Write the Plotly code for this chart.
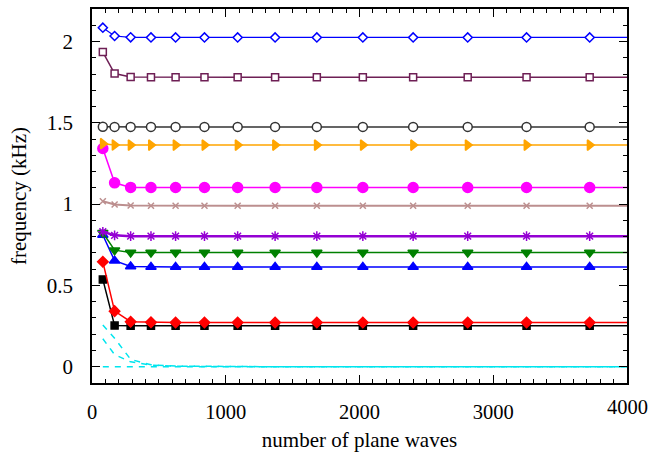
import plotly.graph_objects as go

# number of plane waves (squares of odd integers)
n_pw = [81, 169, 289, 441, 625, 841, 1089, 1369, 1681, 2025, 2401, 2809, 3249, 3721, 4225]
x_last_tick = 4000
x_last_label = "4000"

f_diamond_open = [2.085, 2.034, 2.026, 2.025, 2.025, 2.025, 2.025, 2.025, 2.025, 2.025, 2.025, 2.025, 2.025, 2.025, 2.025]
f_square_open = [1.935, 1.803, 1.782, 1.781, 1.781, 1.781, 1.781, 1.781, 1.781, 1.781, 1.781, 1.781, 1.781, 1.781, 1.781]
f_circle_open = [1.476, 1.475, 1.475, 1.475, 1.475, 1.475, 1.475, 1.475, 1.475, 1.475, 1.475, 1.475, 1.475, 1.475, 1.475]
f_tri_right = [1.372, 1.364, 1.363, 1.363, 1.363, 1.363, 1.363, 1.363, 1.363, 1.363, 1.363, 1.363, 1.363, 1.363, 1.363]
f_circle = [1.342, 1.131, 1.103, 1.102, 1.102, 1.102, 1.102, 1.102, 1.102, 1.102, 1.102, 1.102, 1.102, 1.102, 1.102]
f_cross = [1.018, 0.998, 0.991, 0.990, 0.990, 0.990, 0.990, 0.990, 0.990, 0.990, 0.990, 0.990, 0.990, 0.990, 0.990]
f_star = [0.830, 0.808, 0.803, 0.803, 0.803, 0.803, 0.803, 0.803, 0.803, 0.803, 0.803, 0.803, 0.803, 0.803, 0.803]
f_tri_down = [0.824, 0.717, 0.703, 0.702, 0.702, 0.702, 0.702, 0.702, 0.702, 0.702, 0.702, 0.702, 0.702, 0.702, 0.702]
f_tri_up = [0.810, 0.652, 0.616, 0.614, 0.614, 0.614, 0.614, 0.614, 0.614, 0.614, 0.614, 0.614, 0.614, 0.614, 0.614]
f_diamond = [0.645, 0.342, 0.277, 0.273, 0.272, 0.272, 0.272, 0.272, 0.272, 0.272, 0.272, 0.272, 0.272, 0.272, 0.272]
f_square = [0.537, 0.253, 0.252, 0.252, 0.252, 0.252, 0.252, 0.252, 0.252, 0.252, 0.252, 0.252, 0.252, 0.252, 0.252]
f_dash_a = [0.256, 0.175, 0.045, 0.012, 0.004, 0.002, 0.001, 0.0, 0.0, 0.0, 0.0, 0.0, 0.0, 0.0, 0.0]
f_dash_b = [0.172, 0.075, 0.030, 0.010, 0.003, 0.001, 0.0, 0.0, 0.0, 0.0, 0.0, 0.0, 0.0, 0.0, 0.0]
f_dash_c = [0.0, 0.0, 0.0, 0.0, 0.0, 0.0, 0.0, 0.0, 0.0, 0.0, 0.0, 0.0, 0.0, 0.0, 0.0]

# (values, colour, symbol, size, line width, fill)
series = [
    (f_dash_c, "#00e5ee", None, None, 1.5, None),
    (f_dash_b, "#00e5ee", None, None, 1.5, None),
    (f_dash_a, "#00e5ee", None, None, 1.5, None),
    (f_square, "#000000", "square", 7, 1.5, "same"),
    (f_diamond, "#ff0000", "diamond", 8, 1.5, "same"),
    (f_tri_up, "#0000ff", "triangle-up", 9, 1.5, "same"),
    (f_tri_down, "#008000", "triangle-down", 9, 1.5, "same"),
    (f_star, "#9400d3", "asterisk-open", 8, 2.5, "same"),
    (f_cross, "#bc8f8f", "x-thin-open", 6, 2.0, "same"),
    (f_circle, "#ff00ff", "circle", 10, 1.5, "same"),
    (f_tri_right, "#ffa500", "triangle-right", 9, 1.5, "same"),
    (f_circle_open, "#333333", "circle", 9, 1.5, "white"),
    (f_square_open, "#6e1f55", "square", 7, 1.5, "white"),
    (f_diamond_open, "#0000ff", "diamond", 7, 1.2, "white"),
]

fig = go.Figure()
for ys, col, sym, size, lw, fill in series:
    if sym is None:
        fig.add_trace(go.Scatter(x=n_pw, y=ys, mode="lines",
                                 line=dict(color=col, width=lw, dash="6px,6px")))
    else:
        mk = dict(symbol=sym, size=size, color=col if fill == "same" else fill,
                  line=dict(color=col, width=1.5))
        fig.add_trace(go.Scatter(x=n_pw, y=ys, mode="lines+markers",
                                 line=dict(color=col, width=lw), marker=mk))

font = '"Liberation Serif", "Times New Roman", Times, serif'
axis_common = dict(showline=True, linecolor="black", linewidth=1.5, mirror="allticks",
                   ticks="inside", ticklen=8, tickwidth=1, tickcolor="black",
                   showgrid=False, zeroline=False, automargin=False,
                   ticklabeloverflow="allow")

fig.update_xaxes(range=[0, 4000], tick0=0, dtick=1000,
                 minor=dict(dtick=100, ticks="inside", ticklen=4, tickcolor="black", showgrid=False),
                 title=dict(text="number of plane waves", font=dict(family=font, size=21, color="black"), standoff=12),
                 tickfont=dict(family=font, size=20.5, color="black"),
                 labelalias={x_last_label: " "},
                 ticklabelstandoff=10,
                 **axis_common)
fig.update_yaxes(range=[-0.1, 2.2], tick0=0, dtick=0.5,
                 minor=dict(dtick=0.1, ticks="inside", ticklen=4, tickcolor="black", showgrid=False),
                 title=dict(text="frequency (kHz)", font=dict(family=font, size=21, color="black"), standoff=14),
                 tickfont=dict(family=font, size=21, color="black"),
                 ticklabelstandoff=13,
                 **axis_common)

# last x tick label drawn as an annotation so it sits centred on its tick at the page edge
fig.add_annotation(x=x_last_tick, xref="x", y=0, yref="paper", text=x_last_label,
                   showarrow=False, xanchor="center", yanchor="top", yshift=-11,
                   font=dict(family=font, size=20.5, color="black"))

fig.update_layout(width=648, height=452, showlegend=False,
                  margin=dict(l=92, r=21, t=9, b=69),
                  paper_bgcolor="white", plot_bgcolor="white",
                  font=dict(family=font, size=21, color="black"))

fig.write_html("out.html")
